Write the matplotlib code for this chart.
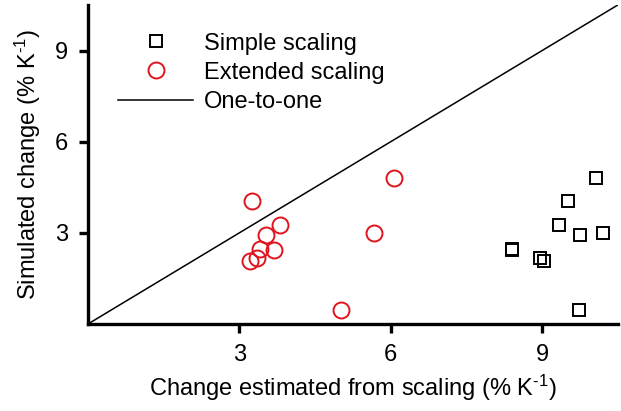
import matplotlib
matplotlib.use('Agg')
import matplotlib.pyplot as plt

plt.rcParams['font.family'] = ['Liberation Sans', 'DejaVu Sans']
plt.rcParams['mathtext.fontset'] = 'custom'
plt.rcParams['mathtext.rm'] = 'Liberation Sans'
plt.rcParams['mathtext.default'] = 'regular'

# simulated change (% K-1), shared by both estimates
sim = [4.79, 4.04, 3.27, 2.94, 3.01, 2.47, 2.44, 2.17, 2.06, 0.47]
# change estimated from simple scaling
simple = [10.07, 9.52, 9.33, 9.75, 10.21, 8.41, 8.41, 8.95, 9.03, 9.73]
# change estimated from extended scaling
extended = [6.06, 3.25, 3.80, 3.52, 5.66, 3.41, 3.68, 3.34, 3.22, 5.01]

lim = 10.5
ticks = [3, 6, 9]
unit = '(% K$^{\u2010' + '1}$)'

fig = plt.figure(figsize=(6.21, 4.11), dpi=100)
ax = fig.add_axes([0.1417, 0.2117, 0.8533, 0.7763])

ax.plot(simple, sim, 's', ms=8.5, mfc='none', mec='black', mew=1.4,
        label='Simple scaling', zorder=3)
ax.plot(extended, sim, 'o', ms=11.5, mfc='none', mec='#e0141e', mew=1.4,
        label='Extended scaling', zorder=3)
ax.plot([0, lim], [0, lim], color='black', lw=1.1, label='One-to-one')

ax.set_xlim(0, lim)
ax.set_ylim(0, lim)
ax.set_xticks(ticks)
ax.set_yticks(ticks)

for s in ['top', 'right']:
    ax.spines[s].set_visible(False)
for s in ['left', 'bottom']:
    ax.spines[s].set_linewidth(2.4)
ax.tick_params(direction='out', length=6.5, width=2.4, labelsize=17, pad=8)

ax.set_xlabel('Change estimated from scaling ' + unit, fontsize=17, labelpad=5)
ax.set_ylabel('Simulated change ' + unit, fontsize=17, labelpad=8)

ax.legend(loc='upper left', bbox_to_anchor=(0.025, 0.965), frameon=False,
          fontsize=17, handlelength=3.2, handletextpad=0.45, labelspacing=0.3,
          numpoints=1, borderaxespad=0.3)

fig.savefig('out.png', dpi=100)
